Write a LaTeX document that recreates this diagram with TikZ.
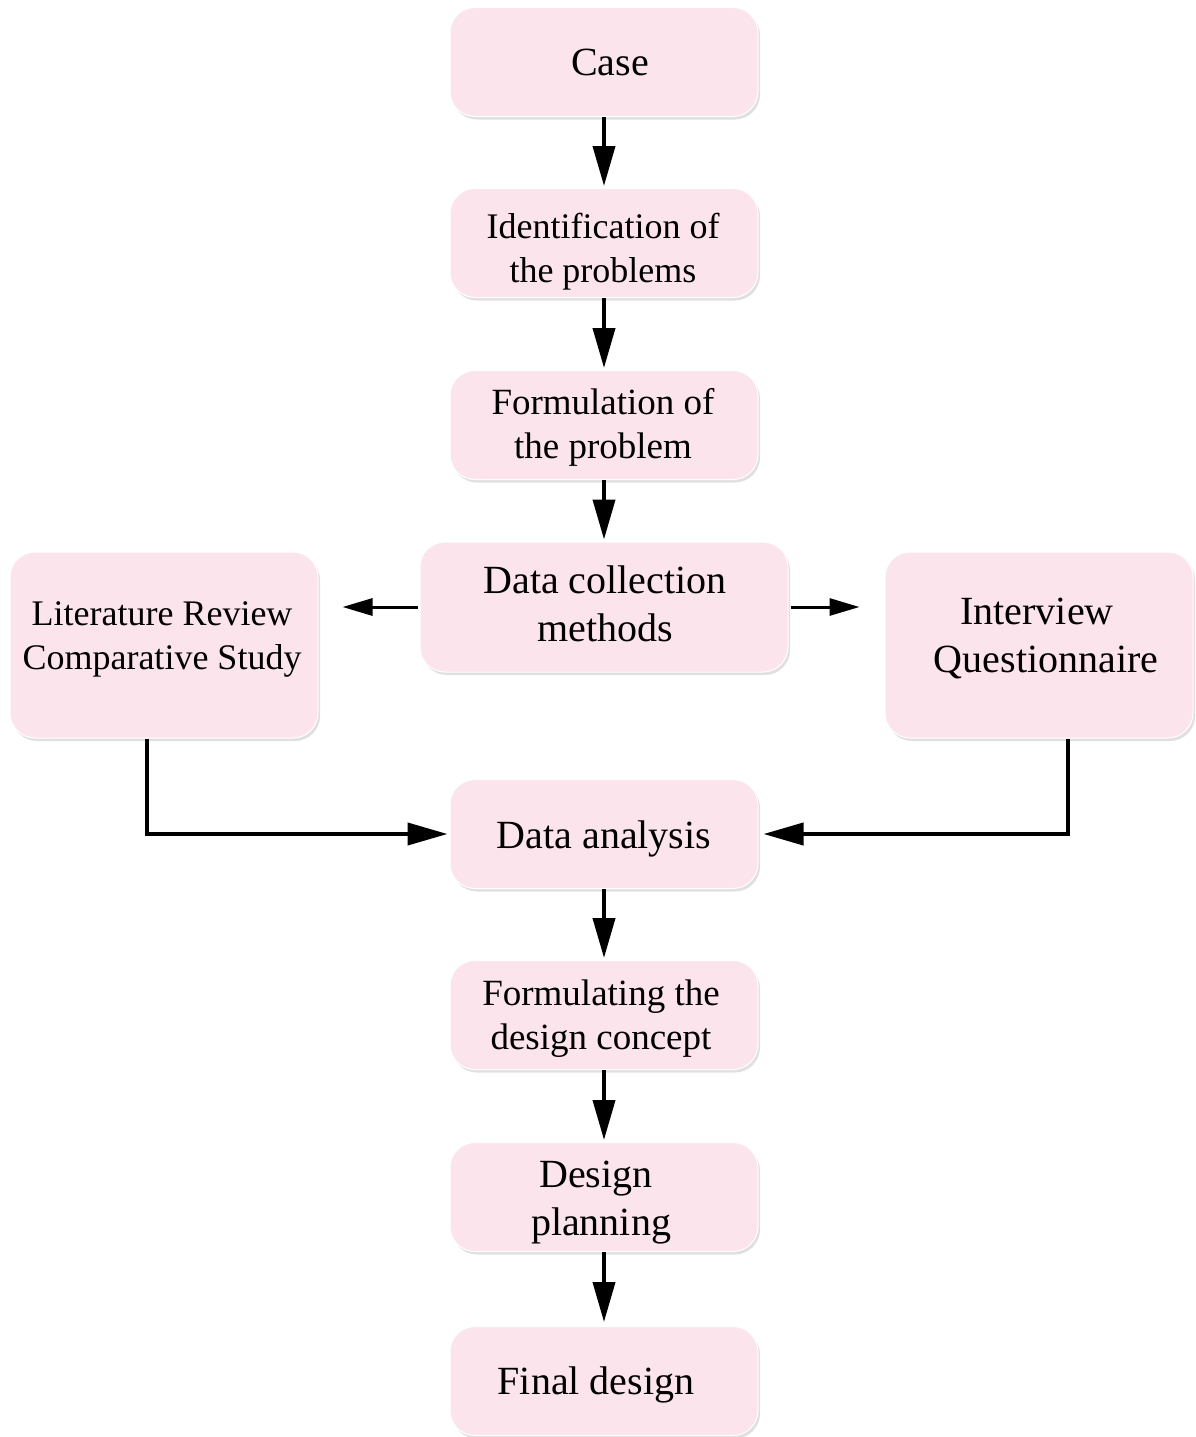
\documentclass[tikz,border=0pt]{standalone}
\usepackage{fontspec}
\setmainfont{Liberation Serif}
\usetikzlibrary{arrows.meta,shadows}
\definecolor{pinkbox}{RGB}{252,228,236}
\tikzset{
  box/.style={rectangle, rounded corners=25pt, fill=pinkbox, draw=white, line width=1pt,
    minimum width=308pt, minimum height=109pt, inner sep=0pt,
    drop shadow={shadow xshift=2pt, shadow yshift=-3pt, fill=black, opacity=0.12}},
  txt/.style={inner sep=0pt, align=center, font=\fontsize{40}{48}\selectfont},
  smalltxt/.style={inner sep=0pt, align=center, font=\fontsize{36}{44}\selectfont},
  midtxt/.style={inner sep=0pt, align=center, font=\fontsize{37}{44}\selectfont},
  flow/.style={line width=4pt, -{Triangle[length=40pt,width=22pt]}},
  side/.style={line width=3pt, -{Triangle[length=30pt,width=17pt]}}
}
\begin{document}
\begin{tikzpicture}[x=1pt,y=-1pt]
\useasboundingbox (0,0) rectangle (1195,1437);
\node[box] (case) at (604,62) {};
\node[box] (ident) at (604,243) {};
\node[box] (form) at (604,425) {};
\node[box, minimum width=368pt, minimum height=130pt] (dc) at (604,607) {};
\node[box, minimum height=186pt] (lit) at (164,645) {};
\node[box, minimum height=186pt] (int) at (1039,645) {};
\node[box] (da) at (604,834) {};
\node[box] (fd) at (604,1015) {};
\node[box] (dp) at (604,1197) {};
\node[box] (fin) at (604,1381) {};

\node[txt] (casetext) at (610,62) {Case};
\node[smalltxt] (identtext) at (603,252) {Identification of\\ the problems};
\node[midtxt] (formtext) at (603,427) {Formulation of\\ the problem};
\node[txt] (dctext) at (605,604) {Data collection\\ methods};
\node[smalltxt] (littext) at (162,639) {Literature Review\\ Comparative Study};
\node[txt] (inttext) at (1046,638) {Interview\hbox to 18pt{}\\ Questionnaire};
\node[txt] (datext) at (604,839) {Data analysis};
\node[midtxt] (fdtext) at (601,1019) {Formulating the\\ design concept};
\node[txt] (dptext) at (601,1203) {Design\hbox to 10pt{}\\ planning};
\node[txt] (fintext) at (596,1385) {Final design};

\draw[flow, shorten >=2pt] (case.south) -- (ident.north);
\draw[flow, shorten >=2pt] (ident.south) -- (form.north);
\draw[flow, shorten >=2pt] (form.south) -- (dc.north);
\draw[side, shorten <=2pt, shorten >=24pt] (dc.west) -- (lit.east |- dc.west);
\draw[side, shorten <=2pt, shorten >=25pt] (dc.east) -- (int.west |- dc.east);
\draw[flow, shorten >=2pt] ([xshift=-17pt]lit.south) |- (da.west);
\draw[flow, shorten >=5pt] ([xshift=29pt]int.south) |- (da.east);
\draw[flow, shorten >=2pt] (da.south) -- (fd.north);
\draw[flow, shorten >=2pt] (fd.south) -- (dp.north);
\draw[flow, shorten >=4pt] (dp.south) -- (fin.north);
\end{tikzpicture}
\end{document}
